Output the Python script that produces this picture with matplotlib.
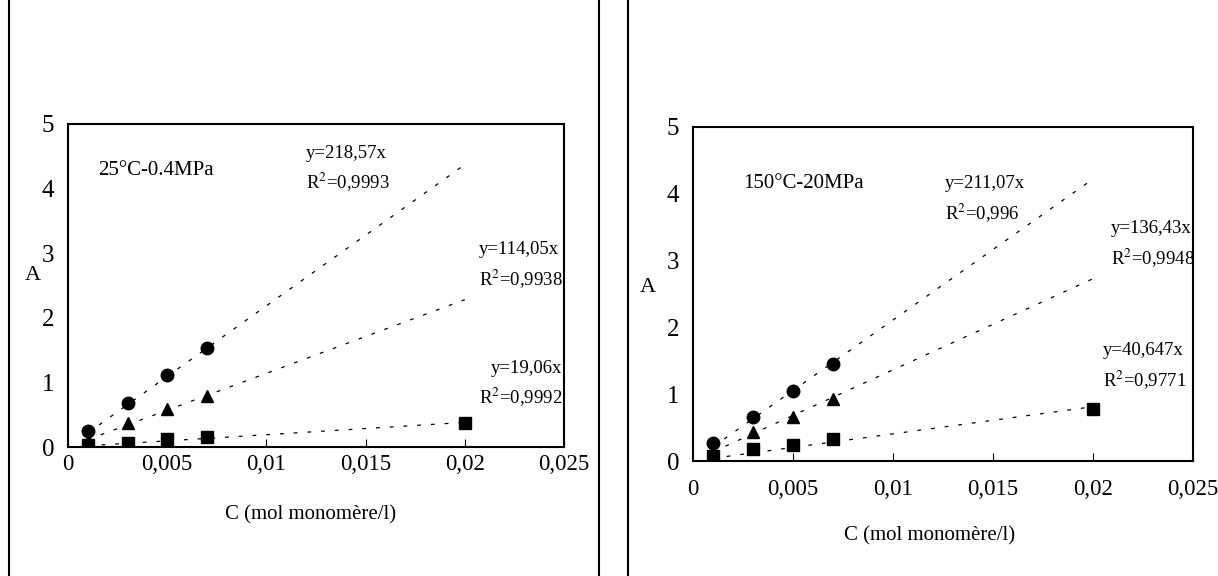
import matplotlib
matplotlib.use('Agg')
import matplotlib.pyplot as plt
from matplotlib.lines import Line2D

plt.rcParams['font.family'] = ['Liberation Serif', 'DejaVu Serif']
plt.rcParams['mathtext.fontset'] = 'stix'

# concentrations (mol monomere/l)
conc = [0.001, 0.003, 0.005, 0.007]
conc_sq = [0.001, 0.003, 0.005, 0.007, 0.02]

# 25C - 0.4MPa
a25_circle = [0.25, 0.68, 1.11, 1.53]
a25_tri = [0.10, 0.37, 0.59, 0.79]
a25_square = [0.03, 0.06, 0.12, 0.15, 0.37]
slopes25 = [218.57, 114.05, 19.06]
eq25 = ['y=218,57x', 'y=114,05x', 'y=19,06x']
r2_25 = ['R$^2$=0,9993', 'R$^2$=0,9938', 'R$^2$=0,9992']

# 150C - 20MPa
a150_circle = [0.27, 0.66, 1.05, 1.45]
a150_tri = [0.12, 0.43, 0.66, 0.93]
a150_square = [0.07, 0.18, 0.24, 0.33, 0.78]
slopes150 = [211.07, 136.43, 40.647]
eq150 = ['y=211,07x', 'y=136,43x', 'y=40,647x']
r2_150 = ['R$^2$=0,996', 'R$^2$=0,9948', 'R$^2$=0,9771']

xticks = [0, 0.005, 0.01, 0.015, 0.02, 0.025]
xticklabels = ['0', '0,005', '0,01', '0,015', '0,02', '0,025']
yticks = [0, 1, 2, 3, 4, 5]
fit_x = [0.001, 0.02]

W, H = 1218, 576
fig = plt.figure(figsize=(W / 100, H / 100), dpi=100)


def panel(rect, circ, tri, sq, slopes, eqs, r2s, title, title_pos, eq_pos,
          xpad, ylab_xy, xlab_xy):
    ax = fig.add_axes(rect)
    for s in slopes:
        ax.plot(fit_x, [s * v for v in fit_x], color='black', lw=0.9,
                ls=(0, (3, 8)))
    ax.plot(conc, circ, 'o', color='black', ms=9)
    ax.plot(conc, tri, '^', color='black', ms=9)
    ax.plot(conc_sq, sq, 's', color='black', ms=9)
    ax.set_xlim(0, 0.025)
    ax.set_ylim(0, 5)
    ax.set_xticks(xticks)
    ax.set_xticklabels(xticklabels)
    ax.set_yticks(yticks)
    ax.tick_params(axis='x', direction='in', length=6, width=0.8,
                   pad=xpad, labelsize=16.5)
    ax.tick_params(axis='y', length=0, pad=10, labelsize=18)
    for sp in ax.spines.values():
        sp.set_linewidth(1.5)
    ax.set_ylabel('A', rotation=0, fontsize=16)
    ax.yaxis.set_label_coords(*ylab_xy)
    ax.set_xlabel('C (mol monomère/l)', fontsize=15)
    ax.xaxis.set_label_coords(*xlab_xy)
    ax.text(title_pos[0], title_pos[1], title, fontsize=15,
            va='center', ha='left')
    for (ex, ey, ha), e, r in zip(eq_pos, eqs, r2s):
        ax.text(ex, ey, e, fontsize=13.5, ha=ha, va='center')
        ax.text(ex, ey - 0.45, r, fontsize=13.5, ha=ha, va='center')
    return ax


panel([68 / W, (H - 447) / H, 496 / W, 323 / H],
      a25_circle, a25_tri, a25_square, slopes25, eq25, r2_25,
      '25°C-0.4MPa', (0.0015, 4.28),
      [(0.0120, 4.55, 'left'), (0.0207, 3.05, 'left'),
       (0.0249, 1.22, 'right')],
      5, (-0.07, 0.50), (0.49, -0.18))

panel([693 / W, (H - 461) / H, 500 / W, 334 / H],
      a150_circle, a150_tri, a150_square, slopes150, eq150, r2_150,
      '150°C-20MPa', (0.0025, 4.16),
      [(0.0126, 4.15, 'left'), (0.0209, 3.48, 'left'),
       (0.0205, 1.66, 'left')],
      13, (-0.09, 0.49), (0.474, -0.195))

# outer frames around each chart
for xf in [9, 599, 628]:
    fig.add_artist(Line2D([xf / W, xf / W], [0, 1], color='black', lw=1.5))

fig.savefig('out.png', dpi=100)
